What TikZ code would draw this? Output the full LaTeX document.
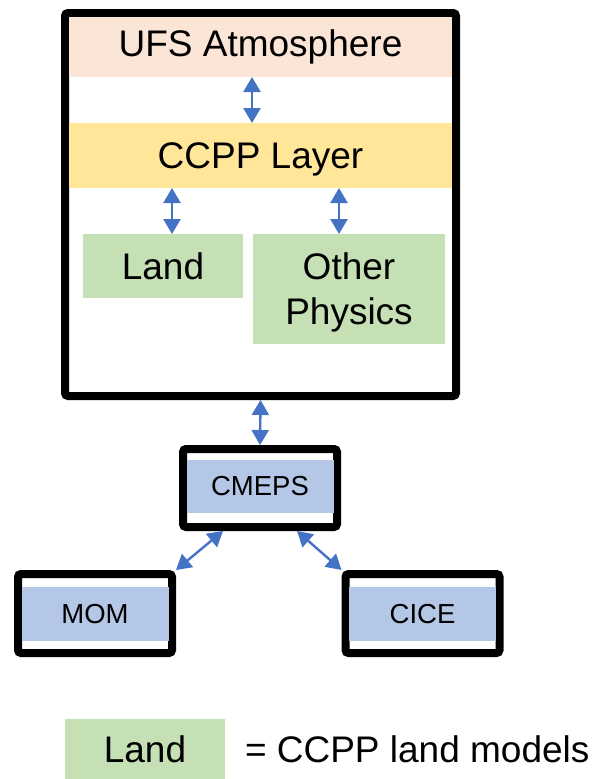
\documentclass[tikz,border=0pt]{standalone}
\usepackage{fontspec}
\setmainfont{Liberation Sans}
\usetikzlibrary{arrows.meta}
\definecolor{atmpeach}{HTML}{FBE5D6}
\definecolor{ccppyellow}{HTML}{FFE699}
\definecolor{landgreen}{HTML}{C5E0B4}
\definecolor{compblue}{HTML}{B4C7E7}
\definecolor{linkblue}{HTML}{4472C4}

\begin{document}
\begin{tikzpicture}[x=1pt,y=-1pt]
				\tikzstyle{every node}=[inner sep=0pt,outer sep=0pt,font=\fontsize{37}{44}\selectfont]
				\tikzstyle{layerband}=[minimum width=383pt]
				\tikzstyle{physbox}=[fill=landgreen]
				\tikzstyle{compframe}=[draw=black,line width=8pt,outer sep=4pt,rounded corners=3pt,
				minimum width=154pt,minimum height=79pt]
				\tikzstyle{complbl}=[fill=compblue,minimum width=147pt,minimum height=54pt,
				font=\fontsize{27.5}{33}\selectfont]
				\tikzstyle{arrowlink}=[draw=linkblue,line width=2.4pt,
				{Triangle[width=17pt,length=15pt]}-{Triangle[width=17pt,length=15pt]}]
				\useasboundingbox (0,0) rectangle (593,779);
				\node[draw=black,line width=8pt,outer sep=4pt,rounded corners=3pt,
				minimum width=391pt,minimum height=383pt] (atm) at (260.5,204.5) {};
				\node[layerband,fill=atmpeach,minimum height=60pt] (ufs) at (260.5,47) {UFS Atmosphere};
				\node[layerband,fill=ccppyellow,minimum height=65pt,text depth=0pt] (ccpp) at (260.5,155.5) {CCPP Layer};
				\node[physbox,minimum width=160pt,minimum height=64pt] (land) at (163,266) {Land};
				\node[physbox,minimum width=192pt,minimum height=110pt,align=center,text depth=0pt,
				font=\fontsize{37}{45}\selectfont] (other) at (349,289) {Other\\Physics};
				\node[compframe,minimum height=78pt] (cmeps) at (260,488) {};
				\node[complbl,minimum height=53pt] (cmepslbl) at (260,486.5) {CMEPS};
				\node[compframe] (mom) at (95,613.5) {};
				\node[complbl] (momlbl) at (95,614) {MOM};
				\node[compframe] (cice) at (422.5,613.5) {};
				\node[complbl] (cicelbl) at (422.5,614) {CICE};
				\draw[arrowlink] ([xshift=-8.5pt]ufs.south) -- ([xshift=-8.5pt]ccpp.north);
				\draw[arrowlink] ([xshift=9pt]land.north |- ccpp.south) -- ([xshift=9pt]land.north);
				\draw[arrowlink] ([xshift=-10pt]other.north |- ccpp.south) -- ([xshift=-10pt]other.north);
				\draw[arrowlink] (atm.south) -- (cmeps.north);
				\draw[arrowlink] ([xshift=-37pt]cmeps.south) -- (mom.north east);
				\draw[arrowlink] ([xshift=37pt]cmeps.south) -- (cice.north west);
				\node[physbox,minimum width=160pt,minimum height=60pt] (legland) at (145,749) {Land};
				\node[anchor=west] (legtext) at (245,749) {= CCPP land models};
\end{tikzpicture}
\end{document}
